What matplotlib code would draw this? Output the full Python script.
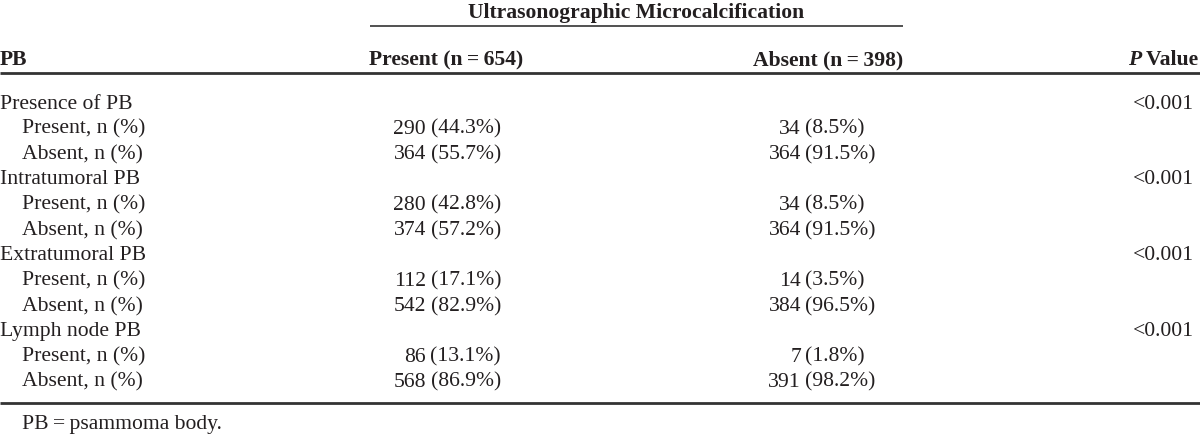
import matplotlib
matplotlib.use("Agg")
import matplotlib.pyplot as plt

# ---------------------------------------------------
# table data
# ---------------------------------------------------
groups = ["Presence of PB", "Intratumoral PB", "Extratumoral PB", "Lymph node PB"]
sub_labels = ["Present, n (%)", "Absent, n (%)"]

# microcalcification present (n = 654)
mc_present_n = [[290, 364], [280, 374], [112, 542], [86, 568]]
mc_present_pct = [[44.3, 55.7], [42.8, 57.2], [17.1, 82.9], [13.1, 86.9]]

# microcalcification absent (n = 398)
mc_absent_n = [[34, 364], [34, 364], [14, 384], [7, 391]]
mc_absent_pct = [[8.5, 91.5], [8.5, 91.5], [3.5, 96.5], [1.8, 98.2]]

p_values = ["<0.001", "<0.001", "<0.001", "<0.001"]

col_headers = ["PB", "Present (n\u2009=\u2009654)", "Absent (n\u2009=\u2009398)"]
span_header = "Ultrasonographic Microcalcification"
footnote = "PB\u2009=\u2009psammoma body."

# ---------------------------------------------------
# layout
# ---------------------------------------------------
W, H = 1200, 436
fs = 15.6
txt = "#231f20"
line_c = "#333333"

plt.rcParams["font.family"] = ["Liberation Serif", "DejaVu Serif"]

fig = plt.figure(figsize=(W / 100, H / 100), dpi=100)
ax = fig.add_axes([0, 0, 1, 1])
ax.set_xlim(0, W)
ax.set_ylim(H, 0)
ax.axis("off")

# header
ax.text(636, 13, span_header, ha="center", va="center", fontsize=fs,
        fontweight="bold", color=txt)
ax.plot([370, 903], [26, 26], color=line_c, lw=1.2, solid_capstyle="butt")

hy = 60
ax.text(0, hy, col_headers[0], ha="left", va="center", fontsize=fs,
        fontweight="bold", color=txt)
ax.text(369, hy, col_headers[1], ha="left", va="center", fontsize=fs,
        fontweight="bold", color=txt)
ax.text(903, hy, col_headers[2], ha="right", va="center", fontsize=fs,
        fontweight="bold", color=txt)

# "P Value" with italic P
val = ax.text(1198, hy, " Value", ha="right", va="center", fontsize=fs,
              fontweight="bold", color=txt)
fig.canvas.draw()
bb = val.get_window_extent()
ax.text(bb.x0, hy, "P", ha="right", va="center", fontsize=fs,
        fontweight="bold", fontstyle="italic", color=txt)

ax.plot([0, W], [73, 73], color=line_c, lw=2, solid_capstyle="butt")

# body
row_h = 25.3
y0 = 104
row = 0
for g in range(len(groups)):
    y = y0 + row * row_h
    ax.text(0, y, groups[g], ha="left", va="center", fontsize=fs, color=txt)
    ax.text(1194, y, p_values[g], ha="right", va="center", fontsize=fs, color=txt)
    row += 1
    for s in range(2):
        y = y0 + row * row_h
        ax.text(22, y, sub_labels[s], ha="left", va="center", fontsize=fs, color=txt)
        ax.text(426, y, str(mc_present_n[g][s]), ha="right", va="center",
                fontsize=fs, color=txt)
        ax.text(501, y, "(%.1f%%)" % mc_present_pct[g][s], ha="right",
                va="center", fontsize=fs, color=txt)
        ax.text(801, y, str(mc_absent_n[g][s]), ha="right", va="center",
                fontsize=fs, color=txt)
        ax.text(805, y, "(%.1f%%)" % mc_absent_pct[g][s], ha="left",
                va="center", fontsize=fs, color=txt)
        row += 1

ax.plot([0, W], [403, 403], color=line_c, lw=2, solid_capstyle="butt")
ax.text(22, 424, footnote, ha="left", va="center", fontsize=fs, color=txt)

fig.savefig("out.png", dpi=100)
